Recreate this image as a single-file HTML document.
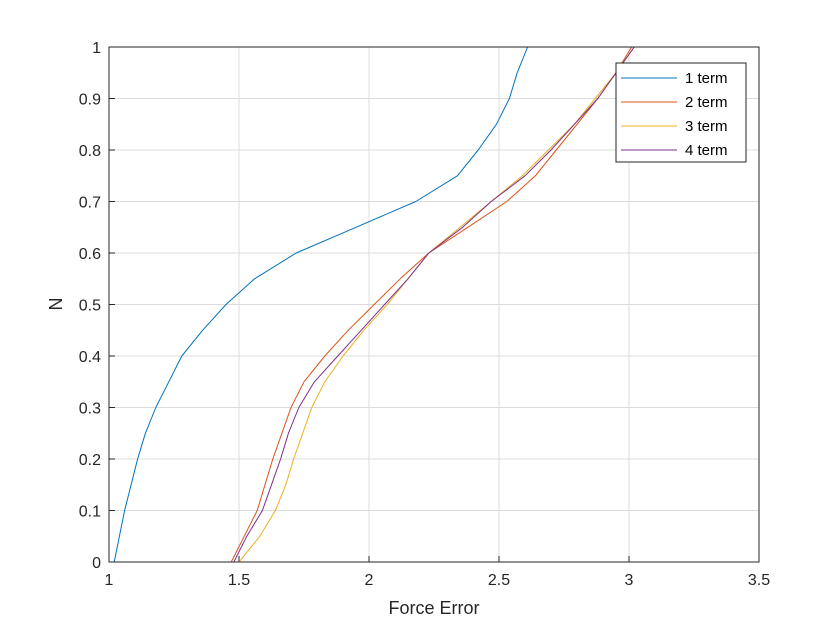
<!DOCTYPE html>
<html><head><meta charset="utf-8"><style>
body{margin:0;background:#fff;}
svg{display:block;font-family:"Liberation Sans",Arial,sans-serif;}
</style></head><body>
<svg id="chart" width="840" height="630" viewBox="0 0 840 630">
<rect x="0" y="0" width="840" height="630" fill="#fff"/>
<g id="grid"></g>
<g id="ticks"></g>
<g id="series"></g>
<rect x="109" y="47" width="650" height="515" fill="none" stroke="#262626" stroke-width="1"/>
<text x="434" y="614" text-anchor="middle" font-size="18" fill="#262626">Force Error</text>
<text x="62" y="304" text-anchor="middle" font-size="18" fill="#262626" transform="rotate(-90 62 304)">N</text>
<g id="legend"></g>
</svg>
<script>
const xTicks=[1,1.5,2,2.5,3,3.5];
const xTickLabels=["1","1.5","2","2.5","3","3.5"];
const yTicks=[0,0.1,0.2,0.3,0.4,0.5,0.6,0.7,0.8,0.9,1];
const yTickLabels=["0","0.1","0.2","0.3","0.4","0.5","0.6","0.7","0.8","0.9","1"];
const seriesNames=["1 term","2 term","3 term","4 term"];
const seriesColors=["#0072BD","#D95319","#EDB120","#7E2F8E"];
const nLevels=[0,0.05,0.1,0.15,0.2,0.25,0.3,0.35,0.4,0.45,0.5,0.55,0.6,0.65,0.7,0.75,0.8,0.85,0.9,0.95,1];
const term1=[1.02,1.04,1.06,1.085,1.11,1.14,1.18,1.23,1.28,1.36,1.45,1.56,1.72,1.95,2.18,2.34,2.42,2.49,2.54,2.57,2.61];
const term2=[1.47,1.52,1.57,1.60,1.63,1.665,1.70,1.75,1.83,1.92,2.02,2.12,2.23,2.38,2.53,2.64,2.72,2.80,2.88,2.95,3.01];
const term3=[1.50,1.58,1.64,1.68,1.71,1.745,1.78,1.83,1.90,1.98,2.07,2.15,2.23,2.35,2.47,2.59,2.69,2.79,2.87,2.95,3.02];
const term4=[1.48,1.53,1.59,1.625,1.66,1.69,1.73,1.79,1.88,1.97,2.06,2.15,2.23,2.36,2.47,2.60,2.70,2.79,2.88,2.95,3.02];
const allSeries=[term1,term2,term3,term4];
const NS="http://www.w3.org/2000/svg";
const X0=109,X1=759,Y0=562,Y1=47;
function sx(v){return X0+(v-1)/(3.5-1)*(X1-X0);}
function sy(v){return Y0-(v-0)/(1-0)*(Y0-Y1);}
function mk(t,a,p){const e=document.createElementNS(NS,t);for(const k in a)e.setAttribute(k,a[k]);p.appendChild(e);return e;}
const grid=document.getElementById('grid'),ticks=document.getElementById('ticks');
xTicks.forEach((v,i)=>{
 const g=mk('line',{x1:sx(v),x2:sx(v),y1:Y1,y2:Y0,stroke:'#dcdcdc','stroke-width':1},grid);
 
 
 mk('line',{x1:sx(v),x2:sx(v),y1:Y0,y2:Y0-6,stroke:'#262626'},ticks);
 const t=mk('text',{x:sx(v),y:Y0+23,'text-anchor':'middle','font-size':16,fill:'#262626'},ticks);
 t.textContent=xTickLabels[i];
 
 
});
yTicks.forEach((v,i)=>{
 const g=mk('line',{x1:X0,x2:X1,y1:sy(v),y2:sy(v),stroke:'#dcdcdc','stroke-width':1},grid);
 
 
 mk('line',{x1:X0,x2:X0+6,y1:sy(v),y2:sy(v),stroke:'#262626'},ticks);
 const t=mk('text',{x:X0-8,y:sy(v)+6,'text-anchor':'end','font-size':16,fill:'#262626'},ticks);
 t.textContent=yTickLabels[i];
 
 
});
const sg=document.getElementById('series');
allSeries.forEach((s,i)=>{
 const pts=s.map((x,j)=>sx(x).toFixed(1)+','+sy(nLevels[j]).toFixed(1)).join(' ');
 const p=mk('polyline',{points:pts,fill:'none',stroke:seriesColors[i],'stroke-width':1,'stroke-linejoin':'round'},sg);
 
 
});
const lg=document.getElementById('legend');
mk('rect',{x:616,y:63,width:130,height:99,fill:'#fff',stroke:'#262626','stroke-width':1},lg);
seriesNames.forEach((n,i)=>{
 const y=78+i*24;
 const l=mk('line',{x1:621,x2:677,y1:y,y2:y,stroke:seriesColors[i]},lg);
 
 
 const t=mk('text',{x:685,y:y+5,'font-size':15,fill:'#000'},lg);
 t.textContent=n;
 
 
});
</script>
</body></html>
